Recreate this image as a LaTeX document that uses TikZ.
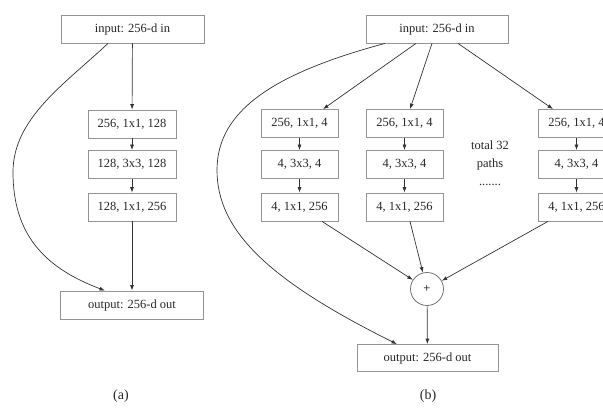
\documentclass[tikz,border=0pt]{standalone}
\usepackage{fontspec}
\setmainfont{Liberation Serif}
\usetikzlibrary{arrows.meta}
\begin{document}
\begin{tikzpicture}[x=1pt,y=-1pt,
  font=\fontsize{12.5}{14}\selectfont,
  box/.style={draw=black!42, line width=0.8pt, inner sep=0pt, text=black!85},
  wide/.style={box, minimum width=143pt, minimum height=28pt},
  layer/.style={box, minimum width=88pt, minimum height=28pt},
  path/.style={box, minimum width=77pt, minimum height=28pt},
  sumnode/.style={circle, draw=black!55, line width=0.8pt, minimum size=33pt, inner sep=0pt},
  arr/.style={draw=black!80, line width=0.7pt, -{Latex[length=5.5pt,width=4pt]}},
  lbl/.style={text=black!85}]
\useasboundingbox (0,0) rectangle (603,414);

% ---- (a) bottleneck block ----
\node[wide] (ina) at (132.5,29) {input: 256-d in};
\node[layer] (a1) at (132,124) {256, 1x1, 128};
\node[layer] (a2) at (132,164.5) {128, 3x3, 128};
\node[layer] (a3) at (132,207) {128, 1x1, 256};
\node[wide] (outa) at (132,305) {output: 256-d out};
\coordinate (la) at (13,172);

\draw[arr] (ina) -- (a1);
\draw[arr] (a1) -- (a2);
\draw[arr] (a2) -- (a3);
\draw[arr] (a3) -- (outa);
\draw[arr] ([xshift=-24.5pt]ina.south) .. controls (66,83) and (13,118) .. (la)
  .. controls (13,235) and (45,268) .. ([xshift=-27pt]outa.north);

% ---- (b) aggregated transformations ----
\node[box, minimum width=142pt, minimum height=28pt] (inb) at (437,29) {input: 256-d in};

\foreach \c/\x in {1/299.5, 2/404.5, 3/576.5} {
  \node[path] (c\c a) at (\x,123.5) {256, 1x1, 4};
  \node[path] (c\c b) at (\x,164.5) {4, 3x3, 4};
  \node[path] (c\c c) at (\x,207) {4, 1x1, 256};
  \draw[arr] (c\c a) -- (c\c b);
  \draw[arr] (c\c b) -- (c\c c);
}

\node[lbl, align=center, font=\fontsize{12.5}{18}\selectfont] (note) at (490,163) {total 32\\paths\\.......};

\node[sumnode] (plus) at (427,289) {\fontsize{12.5}{14}\selectfont +};
\node[box, minimum width=141pt, minimum height=27pt] (outb) at (427.5,358) {output: 256-d out};
\coordinate (lb) at (217,170);

\draw[arr] ([xshift=-21pt]inb.south) -- ([xshift=23.5pt]c1a.north);
\draw[arr] ([xshift=-5pt]inb.south) -- ([xshift=5.5pt]c2a.north);
\draw[arr] ([xshift=21pt]inb.south) -- ([xshift=-23.5pt]c3a.north);
\draw[arr] ([xshift=-52pt]inb.south) .. controls (275,73) and (217,110) .. (lb)
  .. controls (217,230) and (267,279.5) .. ([xshift=-30.5pt]outb.north);

\draw[arr] ([xshift=22.5pt]c1c.south) -- (plus);
\draw[arr] ([xshift=5.5pt]c2c.south) -- (plus);
\draw[arr] ([xshift=-28.5pt]c3c.south) -- (plus);
\draw[arr] (plus) -- (outb);

% ---- captions ----
\node[lbl, font=\fontsize{14}{16}\selectfont] (capa) at (121,396) {(a)};
\node[lbl, font=\fontsize{14}{16}\selectfont] (capb) at (428,396) {(b)};
\end{tikzpicture}
\end{document}
